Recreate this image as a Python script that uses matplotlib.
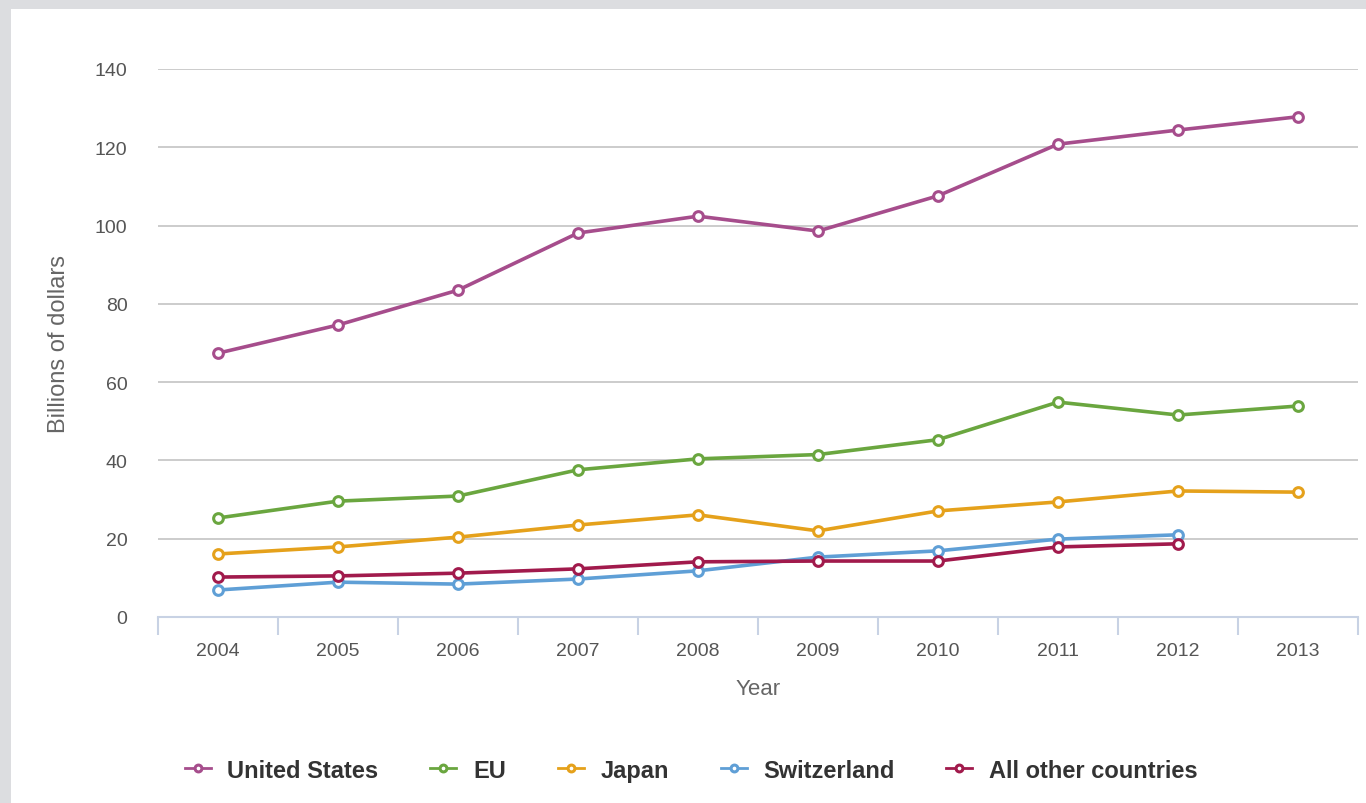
import matplotlib.pyplot as plt
from matplotlib.patches import Rectangle

plt.rcParams['font.family'] = ['Liberation Sans', 'DejaVu Sans']

years = ['2004', '2005', '2006', '2007', '2008', '2009', '2010', '2011', '2012', '2013']
united_states = [67.4, 74.6, 83.5, 98.1, 102.4, 98.6, 107.6, 120.8, 124.4, 127.8]
eu = [25.3, 29.6, 30.9, 37.6, 40.4, 41.5, 45.3, 54.9, 51.6, 53.9]
japan = [16.1, 17.9, 20.4, 23.5, 26.1, 22.0, 27.1, 29.4, 32.2, 31.9]
switzerland = [6.9, 8.9, 8.4, 9.7, 11.8, 15.3, 16.9, 19.9, 21.0]
other = [10.2, 10.5, 11.2, 12.3, 14.1, 14.3, 14.3, 17.9, 18.7]

series = [
    ('United States', united_states, '#a64d8c'),
    ('EU', eu, '#6aa63f'),
    ('Japan', japan, '#e5a11b'),
    ('Switzerland', switzerland, '#5f9fd6'),
    ('All other countries', other, '#a11a4c'),
]

fig = plt.figure(figsize=(13.66, 8.04), dpi=100, facecolor='#dcdde0')
# white panel inside the grey frame
fig.patches.append(Rectangle((11 / 1366, 0), 1, 1 - 10 / 804, transform=fig.transFigure,
                             facecolor='white', edgecolor='none', zorder=-5))

ax = fig.add_axes([158 / 1366, 1 - 618 / 804, 1200 / 1366, 548 / 804])
ax.set_facecolor('none')
ax.set_zorder(2)

for name, vals, col in series:
    ax.plot(range(len(vals)), vals, color=col, lw=2.6, marker='o', ms=7,
            mfc='white', mec=col, mew=2.2, label=name, clip_on=False, zorder=3)

ax.set_xlim(-0.5, len(years) - 0.5)
ax.set_ylim(0, 140)
ax.set_yticks(range(0, 141, 20))
ax.set_xticks(range(len(years)))
ax.set_xticklabels(years)
ax.set_xticks([i - 0.5 for i in range(len(years) + 1)], minor=True)

ax.grid(axis='y', color='#cccccc', lw=1.4)
ax.set_axisbelow(True)
for s in ['top', 'right', 'left']:
    ax.spines[s].set_visible(False)
ax.spines['bottom'].set_color('#c8d2e4')
ax.spines['bottom'].set_linewidth(1.5)

ax.tick_params(axis='y', length=0, pad=22, labelsize=14, labelcolor='#555555')
ax.tick_params(axis='x', which='major', length=0, pad=18, labelsize=14, labelcolor='#555555')
ax.tick_params(axis='x', which='minor', length=13, width=1.5, color='#c8d2e4')

ax.set_xlabel('Year', fontsize=16, color='#666666', labelpad=14)
ax.set_ylabel('Billions of dollars', fontsize=17, color='#666666', labelpad=18)

leg = fig.legend(loc='center', bbox_to_anchor=(0.506, 0.041), ncol=5, frameon=False,
                 prop={'weight': 'bold', 'size': 17}, labelcolor='#333333',
                 handlelength=1.1, handletextpad=0.7, columnspacing=2.2, markerscale=0.7)
for h in leg.legend_handles:
    h.set_linewidth(2)

fig.savefig('out.png', dpi=100, facecolor=fig.get_facecolor())
